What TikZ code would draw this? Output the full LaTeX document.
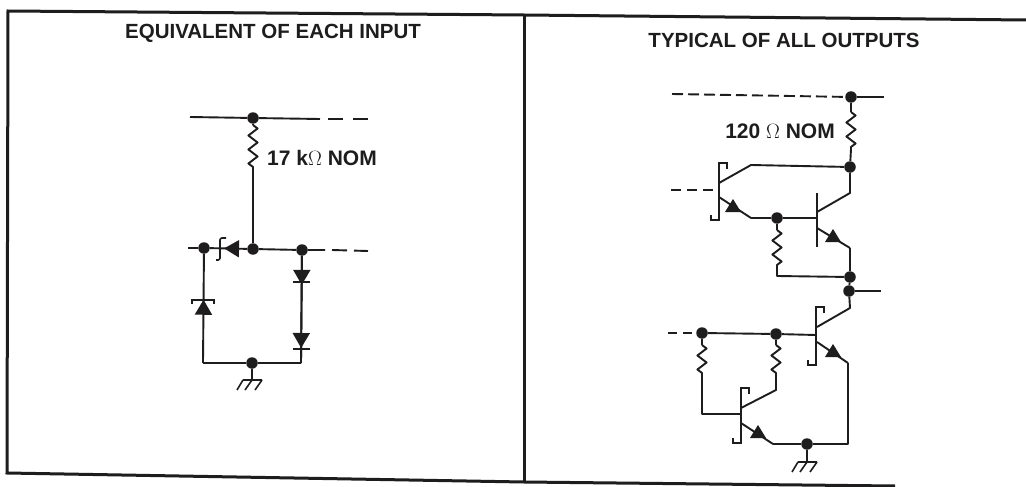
\documentclass[tikz,border=0pt]{standalone}
\usepackage{fontspec}
\setmainfont{Liberation Sans}
\usepackage{tikz}
\usetikzlibrary{arrows.meta,decorations.pathmorphing,decorations.markings}
\definecolor{ink}{HTML}{1E1C1D}
\tikzstyle{dot} = [circle, fill=ink, draw=none, inner sep=0pt, minimum size=11.5pt]
\tikzstyle{wire} = [draw=ink, line width=1.9pt, line join=round]
\tikzstyle{thin_wire} = [draw=ink, line width=1.6pt]
\tikzstyle{frame} = [draw=ink, line width=3pt]
\tikzstyle{title} = [font=\bfseries\fontsize{20.5}{24}\selectfont, text=ink, inner sep=0pt]
\tikzstyle{value} = [font=\bfseries\fontsize{21}{24}\selectfont, text=ink, inner sep=0pt]
\tikzstyle{res} = [wire, decorate, decoration={zigzag, amplitude=4.6pt, segment length=14pt}]
\tikzstyle{dash_a} = [wire, dash pattern=on 15pt off 10pt]
\tikzstyle{dash_b} = [wire, dash pattern=on 15pt off 7pt]
\tikzstyle{tip} = [postaction={decorate, decoration={markings, mark=at position #1 with {\arrow{Triangle[length=15pt,width=17pt]}}}}]
% schottky bar, x y-top y-bottom
\newcommand{\sbar}[3]{
    \draw [thin_wire] (#1+8,#2+6) -- (#1+8,#2) -- (#1,#2) -- (#1,#3) -- (#1-8,#3) -- (#1-8,#3-5);
}
% emitter triangle, x y
\newcommand{\etri}[2]{
    \fill [ink] (#1,#2-7) -- (#1-8,#2+6) -- (#1+8,#2+6) -- cycle;
}
% ground symbol
\newcommand{\gnd}[2]{
    \draw [thin_wire] (#1-9,#2) -- (#1+10,#2)
        (#1-9,#2) -- (#1-15,#2+10) (#1,#2) -- (#1-7,#2+10) (#1+10,#2) -- (#1+3,#2+10);
}
\begin{document}
\begin{tikzpicture}[x=1pt,y=-1pt]
\useasboundingbox (0,0) rectangle (1026,487);
\fill [white] (0,0) rectangle (1026,487);

% outline
\coordinate (tl) at (8,11);
\coordinate (tm) at (524,15);
\coordinate (tr) at (1026,20);
\coordinate (bl) at (7,473);
\coordinate (bm) at (524,482);
\coordinate (br) at (895,486);
\draw [frame] (tr) -- (tm) -- (tl) -- (bl) -- (bm) -- (br);
\draw [frame] (tm) -- (bm);

\node [title] (title_in) at (273,33.5) {EQUIVALENT OF EACH INPUT};
\node [title] (title_out) at (784,40) {TYPICAL OF ALL OUTPUTS};

% input side
\node [dot] (a_vcc) at (253,118) {};
\node [dot] (a_in) at (253,249) {};
\node [dot] (a_left) at (204,248) {};
\node [dot] (a_right) at (302,250) {};
\node [dot] (a_gnd) at (252,363) {};
\coordinate (a_vcc_l) at (190,117);
\coordinate (a_vcc_s) at (320,119);
\coordinate (a_vcc_r) at (372,119);
\coordinate (a_r1) at (253,125);
\coordinate (a_r2) at (253,168);
\coordinate (a_in_l) at (188,248);
\coordinate (a_in_s) at (325,250);
\coordinate (a_in_r) at (368,251);
\coordinate (a_bl) at (203,363);
\coordinate (a_br) at (301,363);
\coordinate (a_g) at (252,380);
\node [value, anchor=west] (a_val) at (267,158) {17 k$\Omega$ NOM};

\draw [wire] (a_vcc_l) -- (a_vcc) -- (a_vcc_s);
\draw [dash_a] (a_vcc_s) ++(8,0) -- (a_vcc_r);
\draw [wire] (a_vcc) -- (a_r1);
\draw [res] (a_r1) -- (a_r2);
\draw [wire] (a_r2) -- (a_in);
\draw [wire] (a_in_l) -- (a_left);
\draw [wire, tip=0.62] (a_in) -- (a_left);
\draw [wire] (a_in) -- (a_right) -- (a_in_s);
\draw [dash_b] (a_in_s) ++(7,0) -- (a_in_r);
\draw [wire, tip=0.58] (a_bl) -- (a_left);
\draw [wire] (a_bl) -- (a_gnd) -- (a_br);
\draw [wire, tip=0.27] (a_right) -- (a_br);
\draw [wire, tip=0.86] (a_right) -- (a_br);
\draw [wire] (a_gnd) -- (a_g);
\gnd{252}{380}
\draw [thin_wire] (293,282) -- (310,282) (293,349) -- (310,349);
% schottky on the two left diodes
\draw [thin_wire, rounded corners=2pt] (226,238) -- (220,238) -- (220,260) -- (216,260);
\draw [thin_wire] (192,304) -- (192,300) -- (214,300) -- (214,304);

% output side
\node [dot] (b_vcc) at (851,97) {};
\node [dot] (b_c1) at (850,167) {};
\node [dot] (b_e1) at (777,218) {};
\node [dot] (b_o1) at (850,277) {};
\node [dot] (b_o2) at (849,291) {};
\node [dot] (b_b3) at (776,334) {};
\node [dot] (b_in) at (702,333) {};
\node [dot] (b_gnd) at (807,444) {};
\coordinate (b_vcc_l) at (672,94);
\coordinate (b_vcc_r) at (884,97);
\coordinate (b_r1) at (851,112);
\coordinate (b_r2) at (851,149);
\coordinate (b_t1a) at (751,165);
\coordinate (b_t1c) at (719,183);
\coordinate (b_t1b) at (719,190);
\coordinate (b_t1i) at (671,190);
\coordinate (b_t1e) at (719,197);
\coordinate (b_t1f) at (751,218);
\coordinate (b_t2b) at (817,218);
\coordinate (b_t2c) at (817,212);
\coordinate (b_t2d) at (850,193);
\coordinate (b_t2e) at (817,228);
\coordinate (b_t2f) at (850,248);
\coordinate (b_r3) at (777,230);
\coordinate (b_r4) at (777,267);
\coordinate (b_r5) at (777,276);
\coordinate (b_out) at (881,291);
\coordinate (b_t3d) at (850,308);
\coordinate (b_t3c) at (817,327);
\coordinate (b_t3b) at (816,335);
\coordinate (b_t3e) at (817,342);
\coordinate (b_t3f) at (848,363);
\coordinate (b_i) at (668,333);
\coordinate (b_r6) at (702,345);
\coordinate (b_r7) at (702,378);
\coordinate (b_r8) at (702,414);
\coordinate (b_t4b) at (741,414);
\coordinate (b_r9) at (776,345);
\coordinate (b_r10) at (776,378);
\coordinate (b_r11) at (776,390);
\coordinate (b_t4c) at (741,408);
\coordinate (b_t4e) at (741,423);
\coordinate (b_t4f) at (773,444);
\coordinate (b_br) at (848,444);
\coordinate (b_g) at (807,462);
\node [value, anchor=east] (b_val) at (835,131) {120 $\Omega$ NOM};

\draw [dash_a, dash pattern=on 11pt off 5pt] (b_vcc_l) -- (b_vcc);
\draw [wire] (b_vcc) -- (b_vcc_r);
\draw [wire] (b_vcc) -- (b_r1);
\draw [res] (b_r1) -- (b_r2);
\draw [wire] (b_r2) -- (b_c1);
\draw [wire] (b_c1) -- (b_t1a) -- (b_t1c);
\draw [dash_a, dash pattern=on 10pt off 6pt] (b_t1i) -- (b_t1b);
\draw [wire] (b_t1e) -- (b_t1f);
\etri{733}{206}
\draw [wire] (b_t1f) -- (b_e1) -- (b_t2b);
\sbar{719}{163}{220}
\draw [thin_wire] (817,193) -- (817,247);
\draw [wire] (b_t2c) -- (b_t2d) -- (b_c1);
\draw [wire] (b_t2e) -- (b_t2f);
\etri{833}{236}
\draw [wire] (b_t2f) -- (b_o1) -- (b_o2);
\draw [wire] (b_o2) -- (b_out);
\draw [wire] (b_e1) -- (b_r3);
\draw [res] (b_r3) -- (b_r4);
\draw [wire] (b_r4) -- (b_r5) -- (b_o1);
\draw [wire] (b_o2) -- (b_t3d) -- (b_t3c);
\sbar{816}{307}{365}
\draw [wire] (b_t3e) -- (b_t3f);
\etri{833}{351}
\draw [wire] (b_t3f) -- (b_br) -- (b_gnd);
\draw [wire] (b_in) -- (b_b3) -- (b_t3b);
\draw [dash_a, dash pattern=on 9pt off 6pt] (b_i) -- (b_in);
\draw [wire] (b_in) -- (b_r6);
\draw [res] (b_r6) -- (b_r7);
\draw [wire] (b_r7) -- (b_r8) -- (b_t4b);
\draw [wire] (b_b3) -- (b_r9);
\draw [res] (b_r9) -- (b_r10);
\draw [wire] (b_r10) -- (b_r11) -- (b_t4c);
\sbar{741}{388}{443}
\draw [wire] (b_t4e) -- (b_t4f);
\etri{758}{432}
\draw [wire] (b_t4f) -- (b_gnd);
\draw [wire] (b_gnd) -- (b_g);
\gnd{807}{462}
\end{tikzpicture}
\end{document}
